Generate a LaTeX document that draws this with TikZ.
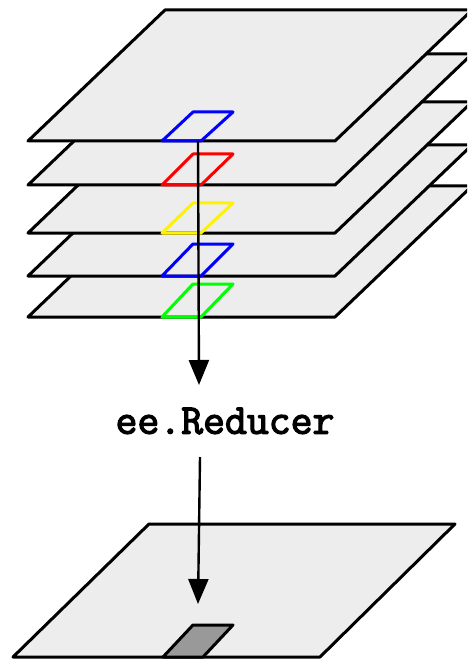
\documentclass[tikz,border=0pt]{standalone}
\usepackage{fontspec}
\newfontfamily\reducerfont[FakeBold=3]{Latin Modern Mono}
\usetikzlibrary{arrows.meta}
\tikzset{
  layer/.style={draw=black, fill=black!7, line width=3pt, line join=round},
  cell/.style={line width=3pt, line join=round},
  flow/.style={draw=black, line width=2.4pt, -{Triangle[width=20pt,length=25pt]}},
  label/.style={font=\fontsize{42.5}{44}\selectfont\reducerfont, inner sep=0pt}
}
\begin{document}
\begin{tikzpicture}[x=1pt,y=-1pt]
\useasboundingbox (0,0) rectangle (467,660);
\begin{scope}
\clip (0,0) rectangle (467,660);
% stacked layers (bottom first)
\foreach \yb/\ht/\col in {317/33/green, 276/32/blue, 233/30/yellow, 185/31/red, 141/29/blue}{
  \draw[layer] (28,\yb) -- (335,\yb) -- (472,\yb-131) -- (165,\yb-131) -- cycle;
  \draw[cell, draw=\col] (162,\yb) -- (201,\yb) -- (233,\yb-\ht) -- (193,\yb-\ht) -- cycle;
}
% output layer
\draw[layer] (13,657) -- (320,657) -- (455,524) -- (149,524) -- cycle;
\draw[cell, draw=black, fill=black!40] (163,657) -- (203,657) -- (233,625) -- (193,625) -- cycle;
\end{scope}
\coordinate (stacktop) at (198,141);
\coordinate (outcell) at (198,604);
\node[label] (reducer) at (225,421) {ee.Reducer};
\draw[flow] (stacktop) -- (199,385);
\draw[flow] (200,457) -- (outcell);
\end{tikzpicture}
\end{document}
